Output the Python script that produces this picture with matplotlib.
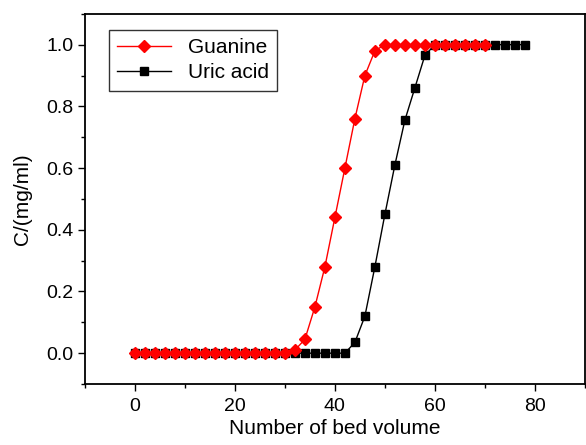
import matplotlib
matplotlib.use("Agg")
import matplotlib.pyplot as plt
from matplotlib.ticker import MultipleLocator

plt.rcParams['font.family'] = ['Liberation Sans', 'DejaVu Sans']

# Guanine breakthrough curve (bed volume 0..70, step 2)
guanine_x = list(range(0, 72, 2))
guanine_c = [0.0] * 16 + [0.01, 0.045, 0.15, 0.28, 0.44, 0.60, 0.76, 0.90, 0.98] + [1.0] * 11

# Uric acid breakthrough curve (bed volume 0..78, step 2)
uric_x = list(range(0, 80, 2))
uric_c = [0.0] * 22 + [0.035, 0.12, 0.28, 0.45, 0.61, 0.755, 0.86, 0.965] + [1.0] * 10

fig = plt.figure(figsize=(5.86, 4.45), dpi=100)
ax = fig.add_axes([0.145, 0.137, 0.853, 0.832])

ax.plot(uric_x, uric_c, color='black', marker='s', markersize=5.5, lw=1, label='Uric acid')
ax.plot(guanine_x, guanine_c, color='red', marker='D', markersize=6, lw=1, label='Guanine')

ax.set_xlim(-10, 90)
ax.set_ylim(-0.1, 1.1)
ax.xaxis.set_major_locator(MultipleLocator(20))
ax.xaxis.set_minor_locator(MultipleLocator(10))
ax.yaxis.set_major_locator(MultipleLocator(0.2))
ax.yaxis.set_minor_locator(MultipleLocator(0.1))
ax.yaxis.set_major_formatter(plt.FormatStrFormatter('%.1f'))
ax.tick_params(which='both', direction='out', top=False, right=False, labelsize=14)
ax.tick_params(axis='x', pad=5)
ax.tick_params(which='major', length=5, width=1)
ax.tick_params(which='minor', length=3, width=1)
for s in ax.spines.values():
    s.set_linewidth(1.3)

ax.set_xlabel('Number of bed volume', fontsize=15, labelpad=3)
ax.set_ylabel('C/(mg/ml)', fontsize=15, labelpad=10)

handles, labels = ax.get_legend_handles_labels()
leg = ax.legend(handles[::-1], labels[::-1], loc='upper left', fontsize=15,
                bbox_to_anchor=(24 / 501, 1 - 16 / 370), borderaxespad=0,
                frameon=True, fancybox=False, edgecolor='black',
                handlelength=2.6, labelspacing=0.3)
leg.get_frame().set_linewidth(1.0)

fig.savefig('out.png', dpi=100)
